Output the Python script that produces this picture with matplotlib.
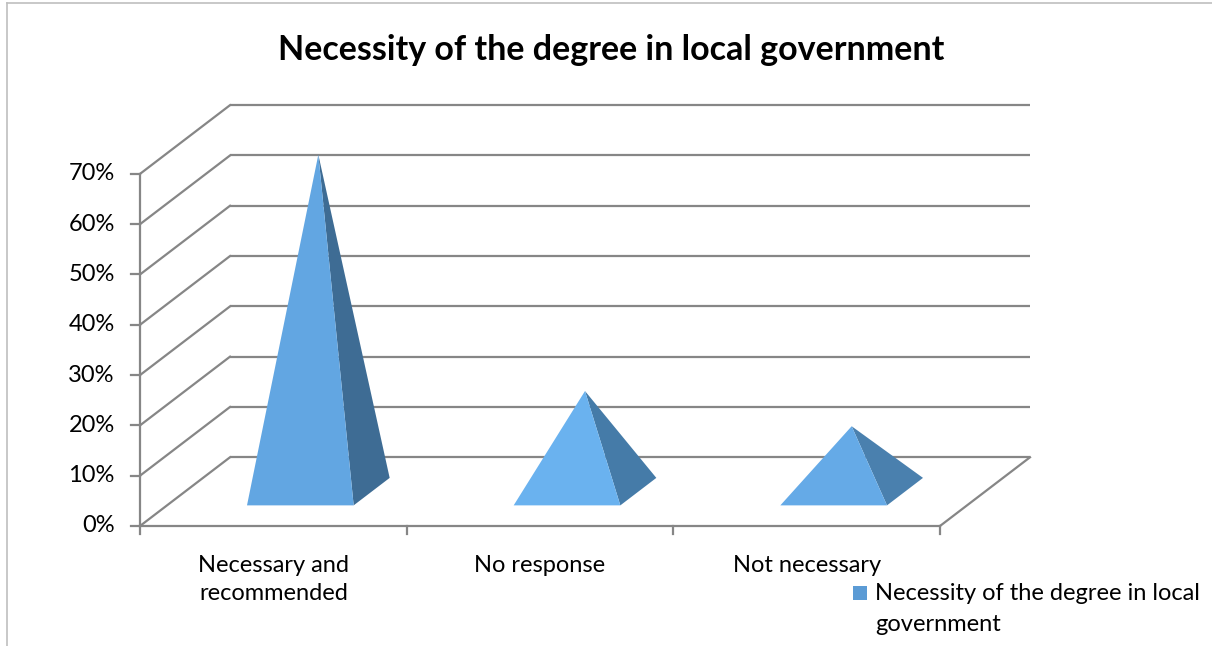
import matplotlib
matplotlib.use("Agg")
import matplotlib.pyplot as plt
from matplotlib.patches import Polygon, Rectangle
from matplotlib.lines import Line2D

# Survey data
categories = ["Necessary and\nrecommended", "No response", "Not necessary"]
values = [67, 20, 13]          # percent
y_ticks = [0, 10, 20, 30, 40, 50, 60, 70]
y_tick_labels = ["0%", "10%", "20%", "30%", "40%", "50%", "60%", "70%"]
title = "Necessity of the degree in local government"
series_name = "Necessity of the degree in local government"

# Face shading for each pyramid (front face, right face)
front_colors = ["#62a6e2", "#6ab2ef", "#65aae7"]
side_colors = ["#3e6c94", "#457ba8", "#4a80ae"]
legend_color = "#5b9bd5"
grid_color = "#868686"

FONT = "Lato"
LABEL_SIZE = 17

fig = plt.figure(figsize=(12.12, 6.46), dpi=100)
ax = fig.add_axes([0, 0, 1, 1])
ax.set_xlim(-0.525, 4.02)
ax.set_ylim(-23.86, 104.57)
ax.axis("off")

# Oblique projection: depth shifts right and up
DX, DY = 0.3375, 13.66


def proj(u, d, v):
    return (u + d * DX, v + d * DY)


ncat = len(categories)
top = y_ticks[-1]
LW = 1.6

# Back wall gridlines and left wall diagonals
for v in y_ticks:
    p0, p1 = proj(0, 1, v), proj(ncat, 1, v)
    ax.plot([p0[0], p1[0]], [p0[1], p1[1]], color=grid_color, lw=LW,
            solid_capstyle="butt", zorder=1)
    q0 = proj(0, 0, v)
    ax.plot([q0[0], p0[0]], [q0[1], p0[1]], color=grid_color, lw=LW, zorder=1)
    # y tick
    ax.plot([q0[0] - 0.034, q0[0]], [q0[1], q0[1]], color=grid_color, lw=LW, zorder=1)

# Front vertical axis
a0, a1 = proj(0, 0, 0), proj(0, 0, top)
ax.plot([a0[0], a1[0]], [a0[1], a1[1]], color=grid_color, lw=LW, zorder=1)

# Floor front edge and right edge
f0, f1 = proj(0, 0, 0), proj(ncat, 0, 0)
ax.plot([f0[0], f1[0]], [f0[1], f1[1]], color=grid_color, lw=LW, zorder=1)
r1 = proj(ncat, 1, 0)
ax.plot([f1[0], r1[0]], [f1[1], r1[1]], color=grid_color, lw=LW, zorder=1)

# Category ticks
for i in range(ncat + 1):
    ax.plot([i, i], [0, -1.5], color=grid_color, lw=LW, zorder=1)

# Pyramids
half_w = 0.2
d_front, d_mid, d_back = 0.3, 0.5, 0.7
for i, v in enumerate(values):
    uc = i + 0.5
    apex = proj(uc, d_mid, v)
    fl = proj(uc - half_w, d_front, 0)
    fr = proj(uc + half_w, d_front, 0)
    br = proj(uc + half_w, d_back, 0)
    ax.add_patch(Polygon([fr, br, apex], closed=True, facecolor=side_colors[i],
                         edgecolor="none", zorder=3))
    ax.add_patch(Polygon([fl, fr, apex], closed=True, facecolor=front_colors[i],
                         edgecolor="none", zorder=4))

# Y tick labels
for v, lab in zip(y_ticks, y_tick_labels):
    ax.text(-0.095, v, lab, ha="right", va="center", fontsize=LABEL_SIZE,
            family=FONT, color="#000000")

# Category labels
for i, lab in enumerate(categories):
    ax.text(i + 0.5, -5.8, lab, ha="center", va="top", fontsize=LABEL_SIZE,
            family=FONT, color="#000000", linespacing=1.42)

# Title
fig.text(0.504, 0.923, title, ha="center", va="center", fontsize=24.5,
         fontweight="bold", family=FONT, color="#000000")

# Legend
fig.add_artist(Rectangle((853 / 1212, 1 - 600 / 646), 14 / 1212, 14 / 646,
                         transform=fig.transFigure, facecolor=legend_color,
                         edgecolor="none"))
fig.text(875 / 1212, 1 - 609 / 646, series_name.replace(" in local ", " in local\n"),
         ha="left", va="center", fontsize=LABEL_SIZE, family=FONT, color="#000000",
         linespacing=1.6)

# Chart area border (top and left)
fig.add_artist(Line2D([7 / 1212, 1], [1 - 3 / 646, 1 - 3 / 646],
                      transform=fig.transFigure, color="#bfbfbf", lw=1.2))
fig.add_artist(Line2D([7 / 1212, 7 / 1212], [0, 1 - 3 / 646],
                      transform=fig.transFigure, color="#bfbfbf", lw=1.2))

fig.savefig("out.png", dpi=100, facecolor="white")
